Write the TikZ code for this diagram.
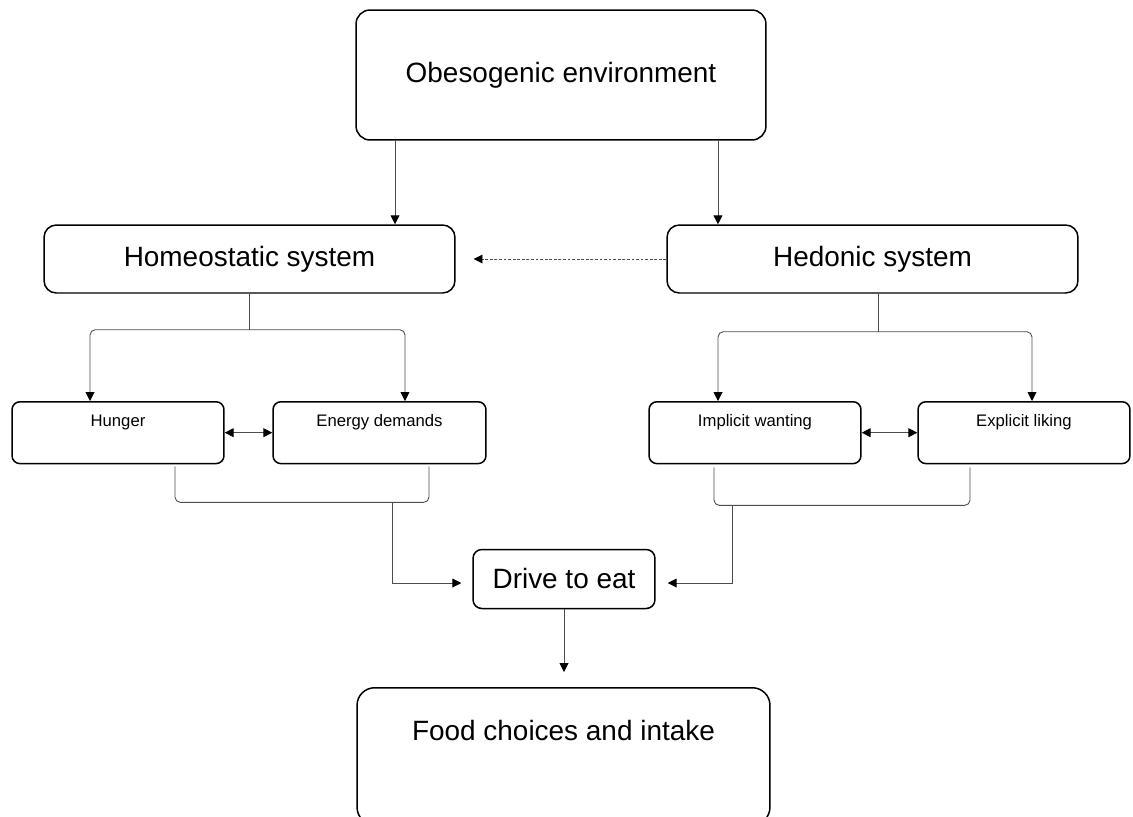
\documentclass[tikz,border=0pt]{standalone}
\usepackage{fontspec}
\setmainfont{Liberation Sans}
\usepackage{tikz}
\usetikzlibrary{positioning,arrows.meta,calc}
\newcommand{\lgfont}{\fontsize{15.9}{19}\selectfont}
\newcommand{\smfont}{\fontsize{9.5}{11.4}\selectfont}
\tikzset{
  bigbox/.style={draw,rounded corners=8pt,line width=0.85pt,font=\lgfont},
  smbox/.style={draw,rounded corners=4.5pt,line width=0.85pt,font=\smfont,
    minimum width=4.24cm,inner ysep=0pt,text height=14.2pt,text depth=21pt,anchor=north},
  conn/.style={line width=0.5pt,black!70},
  tip/.tip={Triangle[length=5pt,width=5pt,color=black]},
  arr/.style={conn,-tip},
  darr/.style={conn,tip-tip},
  dotarr/.style={arr,dash pattern=on 1.6pt off 1pt},
}
\begin{document}
\begin{tikzpicture}[x=0.02cm,y=-0.02cm]
  \useasboundingbox (0,0) rectangle (1133,816);
  % top level
  \node[bigbox,minimum width=8.2cm,minimum height=2.6cm] (obes) at (561,75) {Obesogenic environment};
  \node[bigbox,rounded corners=7pt,minimum width=8.22cm,minimum height=1.36cm] (homeo) at (249.5,259) {Homeostatic system};
  \node[bigbox,rounded corners=7pt,minimum width=8.22cm,minimum height=1.36cm] (hedon) at (872.5,259) {Hedonic system};
  % second level
  \node[smbox] (hunger) at (118,401) {Hunger};
  \node[smbox,minimum width=4.26cm] (energy) at (379.5,401) {Energy demands};
  \node[smbox] (implicit) at (755,401) {Implicit wanting};
  \node[smbox] (explicit) at (1024,401) {Explicit liking};
  % bottom
  \node[bigbox,rounded corners=5pt,minimum width=3.64cm,minimum height=1.18cm] (drive) at (564,579) {Drive to eat};
  \node[bigbox,rounded corners=10pt,minimum width=8.26cm,inner ysep=0pt,text height=30pt,text depth=48pt,anchor=north] (food) at (563.5,687) {Food choices and intake};
  % environment to systems
  \draw[arr] ([xshift=-3.32cm]obes.south) -- ([xshift=-3.32cm]obes.south |- homeo.north);
  \draw[arr] ([xshift=3.14cm]obes.south) -- ([xshift=3.14cm]obes.south |- hedon.north);
  \draw[dotarr,shorten >=0.36cm] (hedon.west) -- (homeo.east);
  % homeostatic branch
  \draw[conn] (homeo.south) -- ++(0,-0.72cm) coordinate (hsplit);
  \draw[arr,rounded corners=3pt] (hsplit) -| ([xshift=-0.56cm]hunger.north);
  \draw[arr,rounded corners=3pt] (hsplit) -| ([xshift=0.51cm]energy.north);
  \draw[darr] (hunger.east) -- (energy.west);
  % hedonic branch
  \draw[conn] ([xshift=0.11cm]hedon.south) -- ++(0,-0.76cm) coordinate (dsplit);
  \draw[arr,rounded corners=3pt] (dsplit) -| ([xshift=-0.74cm]implicit.north);
  \draw[arr,rounded corners=3pt] (dsplit) -| ([xshift=0.16cm]explicit.north);
  \draw[darr] (implicit.east) -- (explicit.west);
  % brackets into drive
  \draw[conn,rounded corners=3pt] ([xshift=1.14cm,yshift=-0.04cm]hunger.south) -- ++(0,-0.72cm)
    -| ([xshift=0.99cm,yshift=-0.04cm]energy.south);
  \coordinate (hjoin) at ([xshift=0.25cm,yshift=-0.76cm]energy.south);
  \draw[arr,shorten >=0.22cm] (hjoin) |- ([yshift=-0.08cm]drive.west);
  \draw[conn,rounded corners=3pt] ([xshift=-0.82cm,yshift=-0.06cm]implicit.south) -- ++(0,-0.76cm)
    -| ([xshift=-1.08cm,yshift=-0.06cm]explicit.south);
  \coordinate (djoin) at ([xshift=-0.46cm,yshift=-0.82cm]implicit.south);
  \draw[arr,shorten >=0.24cm] (djoin) |- ([yshift=-0.08cm]drive.east);
  % drive to food
  \draw[arr,shorten >=0.3cm] (drive.south) -- (drive.south |- food.north);
\end{tikzpicture}
\end{document}
